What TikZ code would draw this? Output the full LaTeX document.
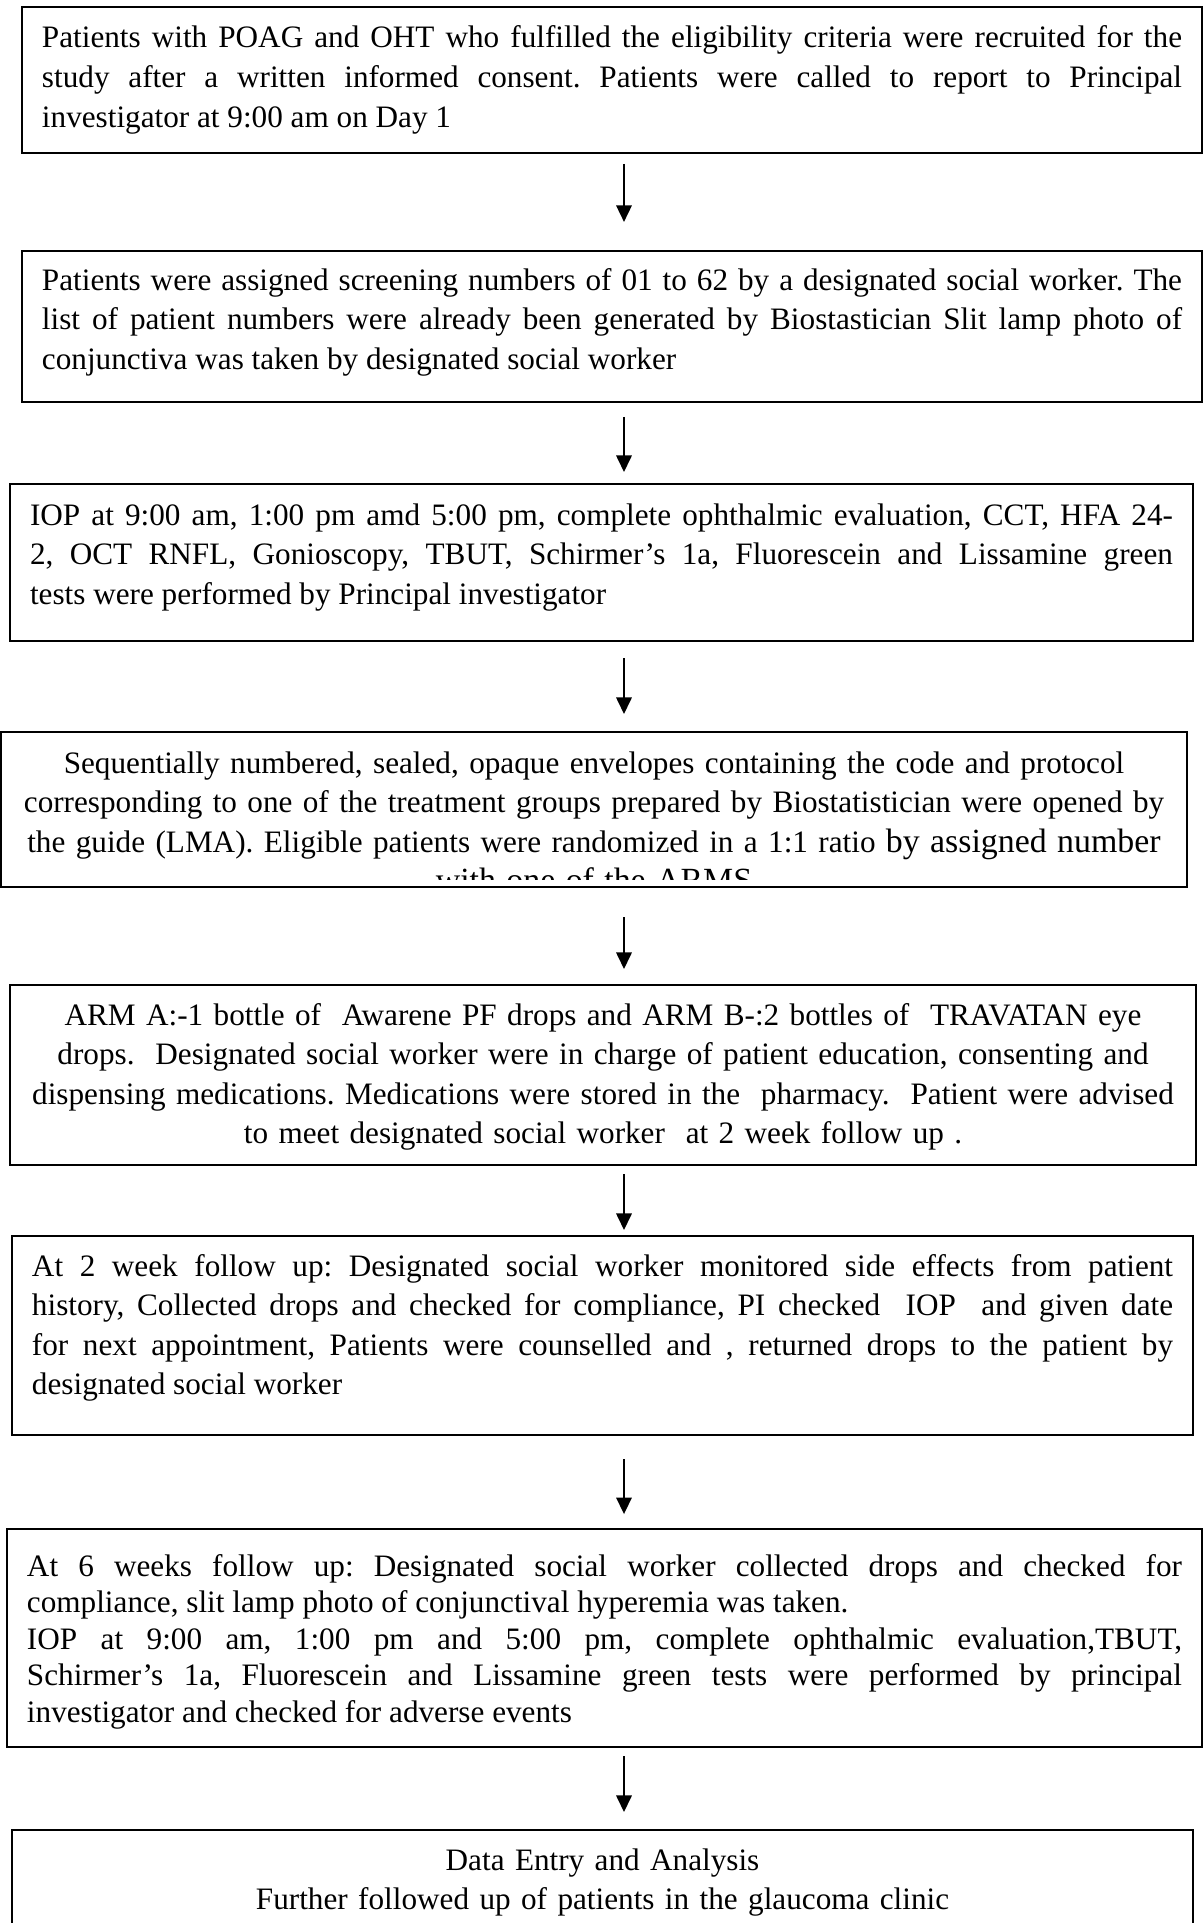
\documentclass[tikz,border=0pt]{standalone}
\usepackage{fontspec}
\setmainfont{Liberation Serif}
\usetikzlibrary{arrows.meta}
\tolerance=10000
\hyphenpenalty=10000
\frenchspacing

\begin{document}
\begin{tikzpicture}[
  x=0.375pt, y=-0.375pt,
  stepbox/.style={draw, line width=0.7pt, inner xsep=7.5pt, inner ysep=0pt,
    outer sep=0pt, anchor=base west, align=justify,
    font=\fontsize{11.7}{14.85}\selectfont},
  midbox/.style={stepbox, align=center, inner xsep=2pt},
  cliptext/.style={inner sep=0pt, outer sep=0pt, anchor=base, align=center,
    font=\fontsize{11.7}{14.85}\selectfont},
  arrow/.style={-{Triangle[length=6.2pt,width=5.8pt]}, line width=0.7pt}
]
  \useasboundingbox[fill=white] (0,0) rectangle (1203,1923);

  \node[stepbox, text width=427.5pt, text height=15.375pt, text depth=39.375pt] (consent) at (22,48)
    {Patients with POAG and OHT who fulfilled the eligibility criteria were recruited for the\linebreak
     study after a written informed consent. Patients were called to report to Principal\linebreak
     investigator at 9:00 am on Day 1};

  \node[stepbox, text width=427.5pt, text height=14.625pt, text depth=42pt] (screening) at (22,290)
    {Patients were assigned screening numbers of 01 to 62 by a designated social worker. The\linebreak
     list of patient numbers were already been generated by Biostastician Slit lamp photo of\linebreak
     conjunctiva was taken by designated social worker};

  \node[stepbox, text width=428.6pt, text height=15.375pt, text depth=43.5pt] (baseline) at (10,525)
    {IOP at 9:00 am, 1:00 pm amd 5:00 pm, complete ophthalmic evaluation, CCT, HFA 24-\linebreak
     2, OCT RNFL, Gonioscopy, TBUT, Schirmer’s 1a, Fluorescein and Lissamine green\linebreak
     tests were performed by Principal investigator};

  % the last line of this box is cut off by the frame in the original
  \node[midbox, text width=440.75pt, text height=15.375pt, text depth=42.75pt] (random) at (1,773) {};
  \begin{scope}
    \clip (random.north west) rectangle ([yshift=3pt]random.south east);
    \node[cliptext, text width=440.75pt] (randomtext) at (random.base)
      {Sequentially numbered, sealed, opaque envelopes containing the code and protocol\\
       corresponding to one of the treatment groups prepared by Biostatistician were opened by\\
       the guide (LMA). Eligible patients were randomized in a 1:1 ratio {\fontsize{12.7}{16}\selectfont by assigned number}\\
       {\fontsize{12.7}{16}\selectfont with one of the ARMS}};
  \end{scope}

  \node[midbox, text width=440.75pt, text height=15pt, text depth=52.5pt] (arms) at (10,1025)
    {ARM A:-1 bottle of\ \ Awarene PF drops and ARM B-:2 bottles of\ \ TRAVATAN eye\\
     drops.\ \ Designated social worker were in charge of patient education, consenting and\\
     dispensing medications. Medications were stored in the\ \ pharmacy.\ \ Patient were advised\\
     to meet designated social worker\ \ at 2 week follow up .};

  \node[stepbox, text width=427.9pt, text height=15pt, text depth=59.625pt] (week2) at (12,1276)
    {At 2 week follow up: Designated social worker monitored side effects from patient\linebreak
     history, Collected drops and checked for compliance, PI checked\ \ IOP\ \ and given date\linebreak
     for next appointment, Patients were counselled and , returned drops to the patient by\linebreak
     designated social worker};

  \node[stepbox, text width=433.1pt, text height=17.625pt, text depth=64.125pt,
    font=\fontsize{11.7}{13.7}\selectfont] (week6) at (7,1576)
    {At 6 weeks follow up: Designated social worker collected drops and checked for\linebreak
     compliance, slit lamp photo of conjunctival hyperemia was taken.\hfill\break
     IOP at 9:00 am, 1:00 pm and 5:00 pm, complete ophthalmic evaluation,TBUT,\linebreak
     Schirmer’s 1a, Fluorescein and Lissamine green tests were performed by principal\linebreak
     investigator and checked for adverse events};

  \node[midbox, text width=438.9pt, text height=15pt, text depth=37.5pt] (analysis) at (12,1870)
    {Data Entry and Analysis\\
     Further followed up of patients in the glaucoma clinic};

  \coordinate (axis) at (624,0);
  \draw[arrow, shorten <=4.1pt, shorten >=10.9pt] (consent.south -| axis) -- (screening.north -| axis);
  \draw[arrow, shorten <=5.6pt, shorten >=4.5pt] (screening.south -| axis) -- (baseline.north -| axis);
  \draw[arrow, shorten <=6.4pt, shorten >=6.75pt] (baseline.south -| axis) -- (random.north -| axis);
  \draw[arrow, shorten <=11.25pt, shorten >=6pt] (random.south -| axis) -- (arms.north -| axis);
  \draw[arrow, shorten <=3.4pt, shorten >=2.25pt] (arms.south -| axis) -- (week2.north -| axis);
  \draw[arrow, shorten <=9pt, shorten >=5.6pt] (week2.south -| axis) -- (week6.north -| axis);
  \draw[arrow, shorten <=3.4pt, shorten >=6.75pt] (week6.south -| axis) -- (analysis.north -| axis);
\end{tikzpicture}
\end{document}
